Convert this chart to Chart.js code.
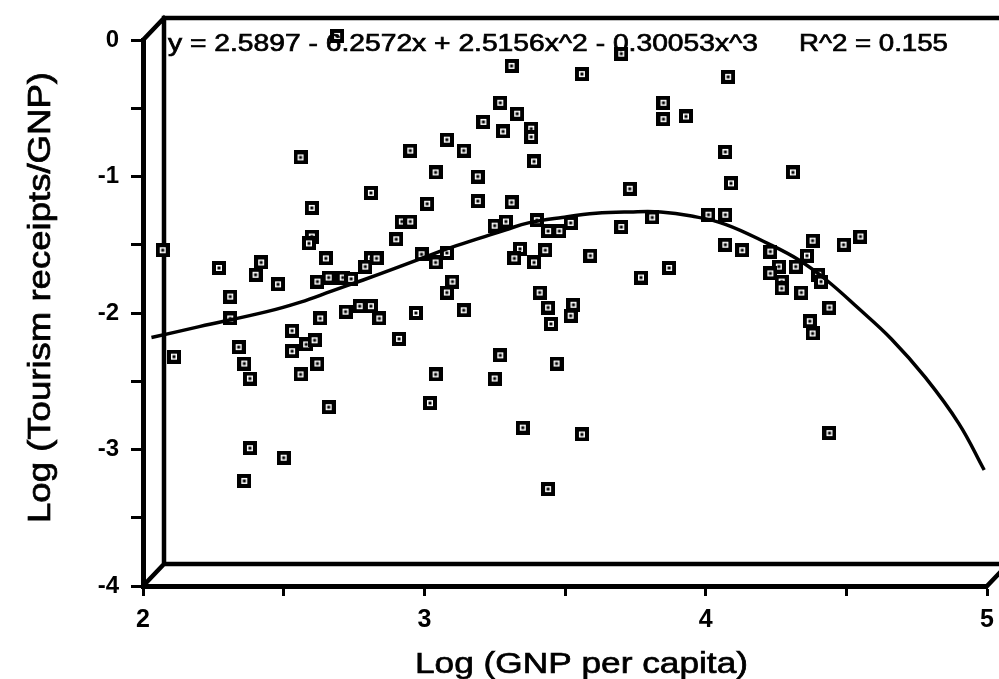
<!DOCTYPE html>
<html><head><meta charset="utf-8">
<script src="https://cdn.jsdelivr.net/npm/chart.js@4.4.1/dist/chart.umd.min.js"></script>
<style>html,body{margin:0;padding:0;background:#fff;overflow:hidden}canvas{display:block}</style>
</head><body>
<canvas id="c" width="999" height="679"></canvas>
<script>
// ---- data ----
const logGNP = [
  2.07,2.27,2.40,2.42,2.48,2.31,2.31,2.34,2.36,2.38,2.38,2.50,2.65,2.62,2.66,2.60,2.59,2.63,2.53,2.53,
  2.58,2.61,2.62,2.56,2.66,2.11,2.36,2.56,2.60,
  2.90,2.81,2.83,2.79,2.71,2.74,2.99,3.04,3.08,3.10,3.08,2.72,2.77,2.81,2.84,2.97,3.14,2.91,3.27,3.04,
  3.25,3.02,3.34,3.32,3.39,3.43,3.59,3.77,3.87,3.41,3.44,3.45,3.53,3.52,3.47,3.35,3.56,3.44,
  2.69,3.70,3.31,3.56,3.27,3.33,3.21,3.28,3.38,3.38,3.08,2.95,3.14,3.39,3.04,3.19,3.73,2.81,3.01,3.19,
  3.31,2.92,2.95,3.25,3.29,3.40,3.44,3.48,3.52,3.70,3.81,
  4.08,3.85,3.85,3.93,4.07,4.31,4.09,4.01,4.07,
  4.07,4.13,4.23,4.38,4.49,4.55,4.26,4.32,4.36,4.23,4.27,4.27,4.40,4.41,4.34,4.44,4.37,4.38,4.44
];
const logTourism = [
  -1.54,-1.67,-1.72,-1.63,-1.79,-1.88,-2.04,-2.25,-2.37,-2.48,-2.99,-3.06,-1.60,-1.77,-1.74,-1.44,-1.49,-2.04,-2.13,-2.28,
  -2.23,-2.20,-2.37,-2.45,-2.69,-2.32,-3.23,-0.86,-1.23,
  -1.46,-1.60,-1.60,-1.66,-1.74,-1.75,-1.57,-1.63,-1.56,-1.77,-1.85,-1.99,-1.95,-1.95,-2.04,-2.00,-1.98,-2.19,-2.31,-2.45,
  -2.48,-2.66,-1.53,-1.60,-1.63,-1.54,-1.58,-1.74,-1.67,-1.85,-1.96,-2.08,-1.94,-2.02,-2.37,-2.84,-2.89,-3.29,
  0.03,-0.10,-0.19,-0.25,-0.46,-0.54,-0.60,-0.67,-0.65,-0.71,-0.73,-0.81,-0.81,-0.89,-0.97,-1.00,-1.09,-1.12,-1.20,-1.18,
  -1.19,-1.33,-1.33,-1.36,-1.33,-1.32,-1.40,-1.40,-1.34,-1.37,-1.30,
  -0.27,-0.46,-0.58,-0.56,-0.82,-0.97,-1.05,-1.28,-1.28,
  -1.50,-1.54,-1.55,-1.47,-1.50,-1.44,-1.66,-1.66,-1.58,-1.71,-1.77,-1.82,-1.72,-1.77,-1.85,-1.96,-2.06,-2.15,-2.88
];
// fitted cubic curve
const curveX = [2.03,2.20,2.44,2.56,2.67,2.78,2.90,2.99,3.08,3.20,3.29,3.37,3.49,3.61,3.73,3.84,3.95,4.07,4.22,4.33,4.43,4.54,4.66,4.78,4.90,4.99];
const curveY = [-2.18,-2.10,-1.99,-1.92,-1.84,-1.76,-1.67,-1.60,-1.53,-1.45,-1.39,-1.34,-1.30,-1.27,-1.26,-1.26,-1.29,-1.35,-1.49,-1.61,-1.76,-1.96,-2.19,-2.47,-2.81,-3.15];
const xTickLabels = [2, 3, 4, 5];
const yTickLabels = [0, -1, -2, -3, -4];
const xTitle = 'Log (GNP per capita)';
const yTitle = 'Log (Tourism receipts/GNP)';
const equationText = 'y = 2.5897 - 6.2572x + 2.5156x^2 - 0.30053x^3';
const r2Text = 'R^2 = 0.155';

// ---- marker: black square with white ring and centre dot ----
const marker = document.createElement('canvas');
marker.width = 14; marker.height = 14;
(function(){
  const m = marker.getContext('2d');
  m.fillStyle = '#000'; m.fillRect(0,0,14,14);
  m.fillStyle = '#fff'; m.fillRect(4,4,6,6);
  m.fillStyle = '#000'; m.fillRect(5.5,5.5,3,3);
})();

const FONT = '"Liberation Sans", Arial, Helvetica, sans-serif';
const DEPTH_X = 21, DEPTH_Y = 22;

const framePlugin = {
  id: 'frame3d',
  beforeDatasetsDraw(chart) {
    const {ctx, chartArea: a} = chart;
    ctx.save();
    ctx.strokeStyle = '#000';
    ctx.lineWidth = 4.5;
    ctx.lineCap = 'square';
    ctx.beginPath();
    ctx.moveTo(a.right + DEPTH_X + 30, a.top - DEPTH_Y);
    ctx.lineTo(a.left + DEPTH_X, a.top - DEPTH_Y);
    ctx.lineTo(a.left + DEPTH_X, a.bottom - DEPTH_Y);
    ctx.lineTo(a.right + DEPTH_X + 30, a.bottom - DEPTH_Y);
    ctx.moveTo(a.left, a.top); ctx.lineTo(a.left + DEPTH_X, a.top - DEPTH_Y);
    ctx.moveTo(a.left, a.bottom); ctx.lineTo(a.left + DEPTH_X, a.bottom - DEPTH_Y);
    ctx.moveTo(a.right, a.bottom); ctx.lineTo(a.right + DEPTH_X, a.bottom - DEPTH_Y);
    ctx.stroke();
    ctx.restore();
  }
};

function fitText(ctx, text, x, y, width) {
  const w = ctx.measureText(text).width;
  ctx.save();
  ctx.translate(x, y);
  ctx.scale(width / w, 1);
  ctx.textAlign = 'left';
  ctx.fillText(text, 0, 0);
  ctx.lineWidth = 0.7;
  ctx.strokeText(text, 0, 0);
  ctx.restore();
}

const textPlugin = {
  id: 'texts',
  afterDraw(chart) {
    const {ctx, chartArea: a} = chart;
    ctx.save();
    ctx.fillStyle = '#000';
    ctx.strokeStyle = '#000';
    ctx.textBaseline = 'alphabetic';
    ctx.font = '24px ' + FONT;
    fitText(ctx, equationText, a.left + 25, a.top + 11, 590);
    fitText(ctx, r2Text, a.left + 656, a.top + 11, 149);
    ctx.font = '30px ' + FONT;
    fitText(ctx, xTitle, a.left + 272, 673, 333);
    ctx.font = '31px ' + FONT;
    ctx.save();
    ctx.translate(50, 523);
    ctx.rotate(-Math.PI / 2);
    fitText(ctx, yTitle, 0, 0, 451);
    ctx.restore();
    ctx.restore();
  }
};

const points = logGNP.map((x, i) => ({x, y: logTourism[i]}));
const curve = curveX.map((x, i) => ({x, y: curveY[i]}));

new Chart(document.getElementById('c'), {
  type: 'scatter',
  data: {
    datasets: [
      {
        type: 'line', label: 'fit', data: curve,
        borderColor: '#000', borderWidth: 3.5, pointRadius: 0,
        tension: 0.4, fill: false, clip: false, order: 0
      },
      {
        type: 'scatter', label: 'countries', data: points,
        pointStyle: marker, pointRadius: 7, clip: false, order: 1
      }
    ]
  },
  options: {
    responsive: false, animation: false,
    layout: {padding: {left: 0, top: 40, right: 12, bottom: 0}},
    plugins: {legend: {display: false}, tooltip: {enabled: false}},
    scales: {
      x: {
        type: 'linear', min: 2, max: 5,
        afterFit(s) { s.height = 93; s.paddingLeft = 0; s.paddingRight = 0; },
        ticks: {
          stepSize: 0.5, autoSkip: false, maxRotation: 0, color: '#000', padding: 9,
          font: {family: FONT, size: 25, weight: 'bold'},
          callback: v => xTickLabels.includes(v) ? String(v) : ''
        },
        grid: {drawOnChartArea: false, drawTicks: true, tickLength: 10, tickWidth: 3, tickColor: '#000'},
        border: {display: true, color: '#000', width: 5}
      },
      y: {
        type: 'linear', min: -4, max: 0,
        afterFit(s) { s.width = 143; s.paddingTop = 0; s.paddingBottom = 0; },
        ticks: {
          stepSize: 0.5, autoSkip: false, color: '#000', padding: 12,
          font: {family: FONT, size: 24, weight: 'bold'},
          callback: v => yTickLabels.includes(v) ? String(v) : ''
        },
        grid: {drawOnChartArea: false, drawTicks: true, tickLength: 12, tickWidth: 3, tickColor: '#000'},
        border: {display: true, color: '#000', width: 5}
      }
    }
  },
  plugins: [framePlugin, textPlugin]
});
</script>
</body></html>
